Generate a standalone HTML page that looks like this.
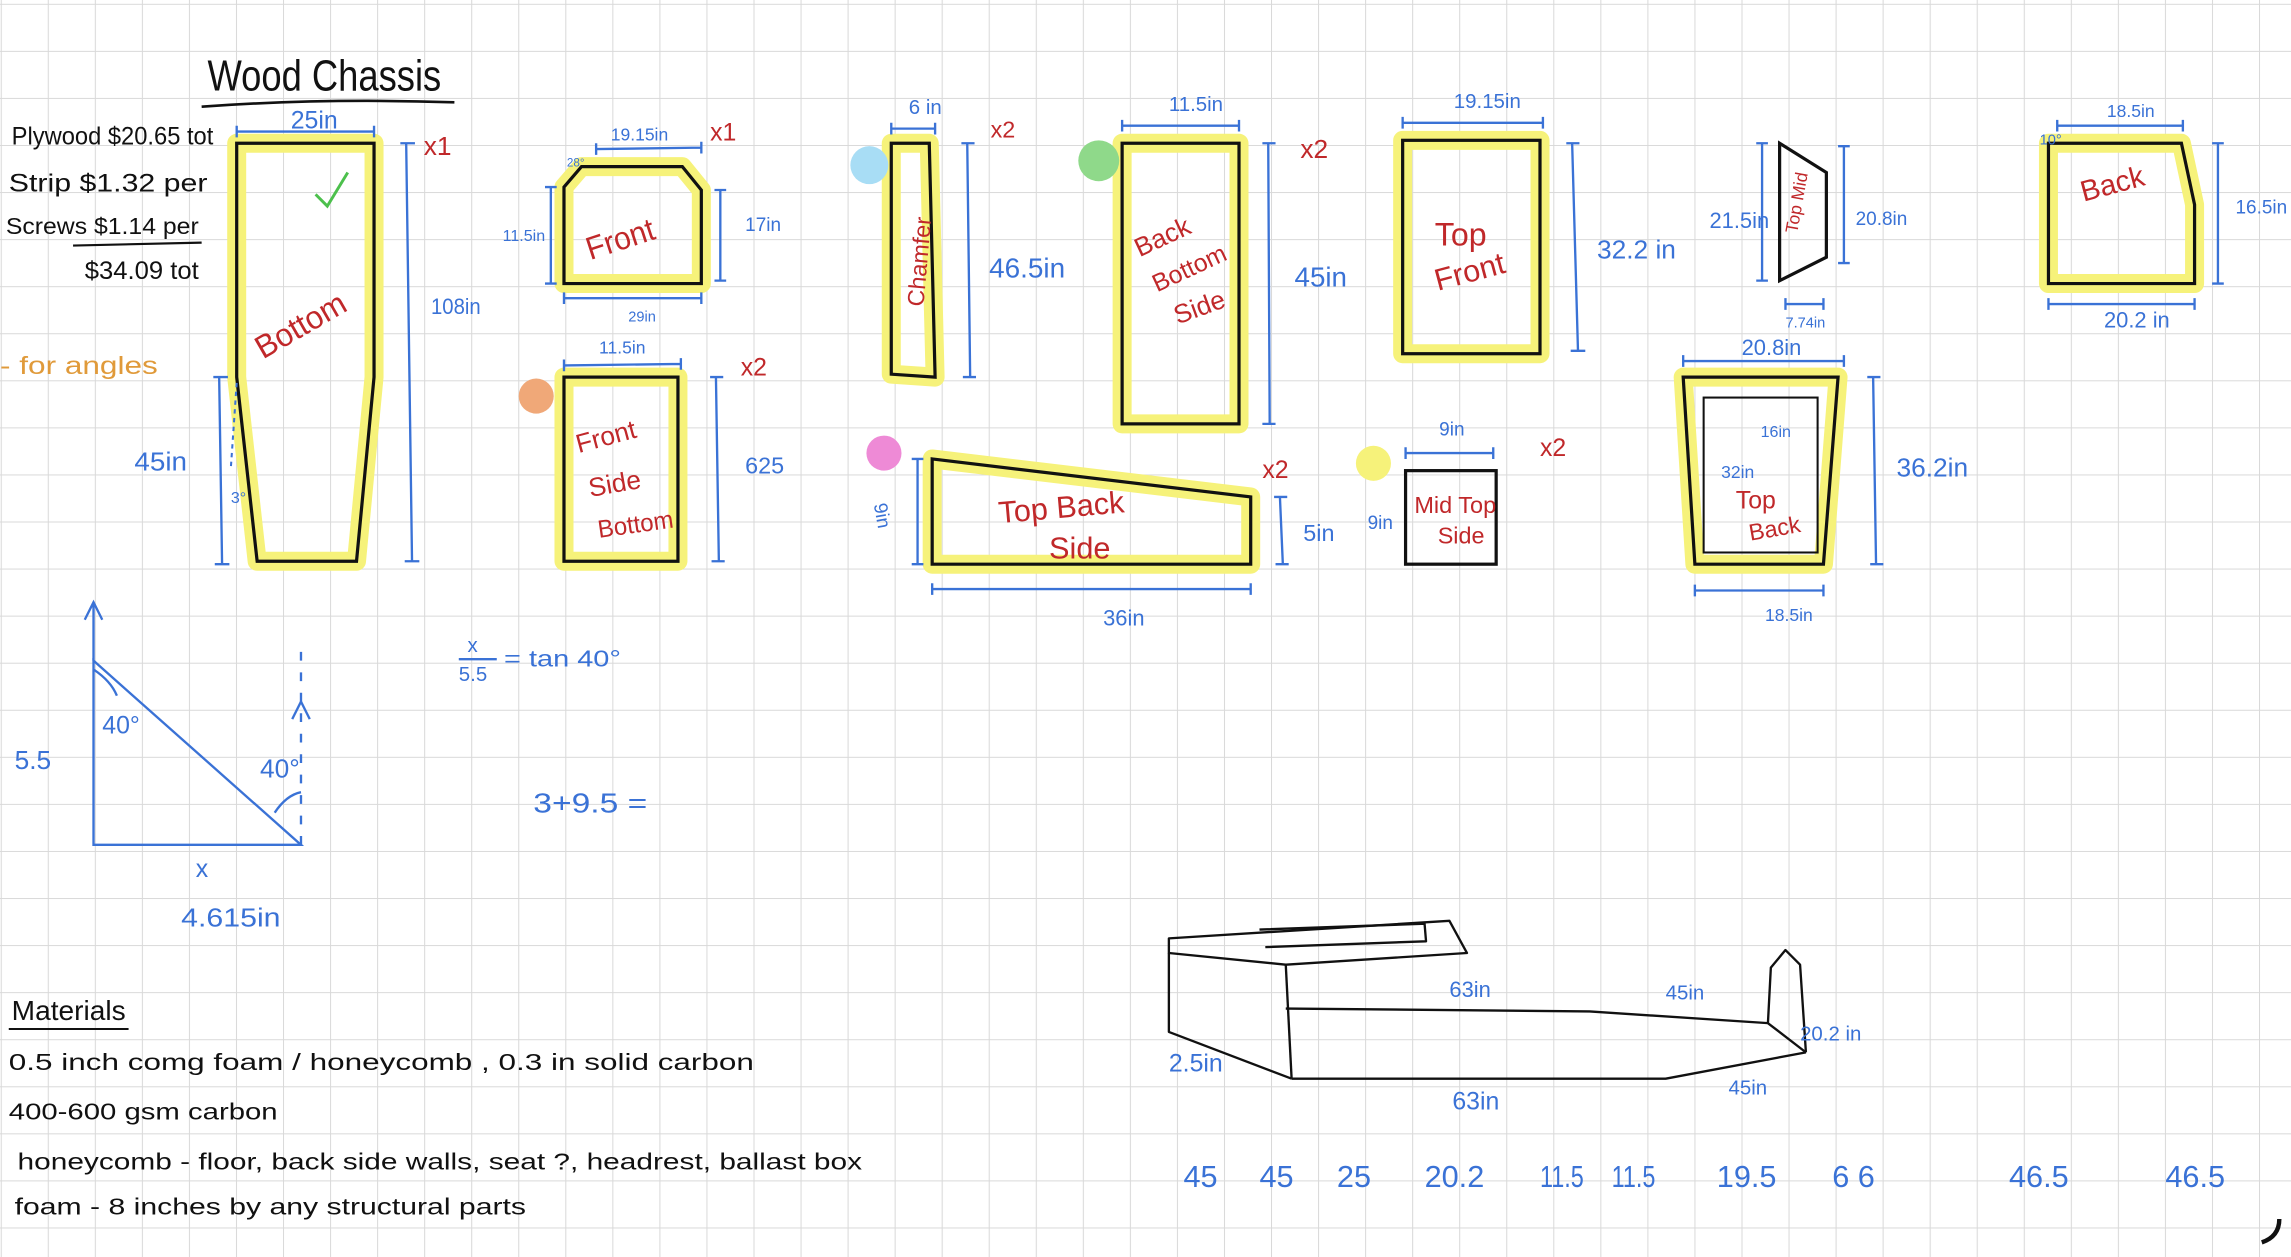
<!DOCTYPE html>
<html><head><meta charset="utf-8"><style>
html,body{margin:0;padding:0;background:#fff;}
svg{display:block;}
text{font-family:"Liberation Sans",sans-serif;}
.b{fill:#3a72d6;}
.r{fill:#c0282a;}
.k{fill:#111;}
.hl{fill:none;stroke:#f6f27a;stroke-width:13;stroke-linejoin:round;}
.sh{fill:none;stroke:#111;stroke-width:2.2;}
.dl{stroke:#3a72d6;stroke-width:1.6;fill:none;}
</style></head><body>
<svg width="2291" height="1257" viewBox="0 0 1568 860" preserveAspectRatio="none" xmlns="http://www.w3.org/2000/svg">
<defs>
<pattern id="g" x="0.5" y="2.6" width="32.2" height="32.2" patternUnits="userSpaceOnUse">
<path d="M0 0 H32.2 M0 0 V32.2" stroke="#d9d9d9" stroke-width="1.4" fill="none"/>
</pattern>
</defs>
<rect width="1568" height="860" fill="#fff"/>
<rect width="1568" height="860" fill="url(#g)"/>

<!-- Title & costs -->
<text x="142" y="62" font-size="30" class="k" textLength="160" lengthAdjust="spacingAndGlyphs">Wood Chassis</text>
<path d="M138 73 Q220 67 311 70" stroke="#111" stroke-width="1.8" fill="none"/>
<text x="8" y="99" font-size="17" class="k" textLength="138" lengthAdjust="spacingAndGlyphs">Plywood  $20.65 tot</text>
<text x="6" y="131" font-size="17" class="k" textLength="136" lengthAdjust="spacingAndGlyphs">Strip    $1.32 per</text>
<text x="4" y="160" font-size="16" class="k" textLength="132" lengthAdjust="spacingAndGlyphs">Screws  $1.14 per</text>
<path d="M50 168 L138 166" stroke="#111" stroke-width="1.5"/>
<text x="58" y="191" font-size="17" class="k" textLength="78" lengthAdjust="spacingAndGlyphs">$34.09 tot</text>
<text x="0" y="256" font-size="17" fill="#e09a3a" textLength="108" lengthAdjust="spacingAndGlyphs">- for  angles</text>

<!-- Bottom -->
<polygon class="hl" points="162,98 256,98 256,258 244,384 176,384 162,258"/>
<polygon class="sh" points="162,98 256,98 256,258 244,384 176,384 162,258"/>
<path d="M216 133 L224 141 L238 118" stroke="#4cc04c" stroke-width="2" fill="none"/>
<text x="180" y="246" font-size="22" class="r" transform="rotate(-30 180 246)" textLength="68" lengthAdjust="spacingAndGlyphs">Bottom</text>
<text x="290" y="106" font-size="18" class="r">x1</text>
<path class="dl" d="M162 90 L256 90 M162 86 V94 M256 86 V94"/>
<text x="199" y="88" font-size="17" class="b">25in</text>
<path class="dl" d="M278 98 L282 384 M274 98 H284 M277 384 H287"/>
<text x="295" y="215" font-size="15" class="b" textLength="34" lengthAdjust="spacingAndGlyphs">108in</text>
<path class="dl" d="M150 258 L152 386 M146 258 H156 M147 386 H157"/>
<text x="92" y="322" font-size="18" class="b" textLength="36" lengthAdjust="spacingAndGlyphs">45in</text>
<path d="M162 262 L158 320" stroke="#3a72d6" stroke-width="1.4" stroke-dasharray="3 3" fill="none"/>
<text x="158" y="344" font-size="11" class="b">3°</text>

<!-- Front -->
<polygon class="hl" points="386,128 398,114 467,114 480,130 480,194 386,194"/>
<polygon class="sh" points="386,128 398,114 467,114 480,130 480,194 386,194"/>
<text x="404" y="178" font-size="22" class="r" transform="rotate(-18 404 178)" textLength="48" lengthAdjust="spacingAndGlyphs">Front</text>
<path class="dl" d="M408 102 L480 101 M408 98 V106 M480 97 V105"/>
<text x="418" y="96" font-size="12" class="b">19.15in</text>
<text x="486" y="96" font-size="17" class="r">x1</text>
<path class="dl" d="M377 128 V194 M373 128 H381 M373 194 H381"/>
<text x="344" y="165" font-size="11" class="b">11.5in</text>
<path class="dl" d="M493 130 V192 M489 130 H497 M489 192 H497"/>
<text x="510" y="158" font-size="13" class="b">17in</text>
<path class="dl" d="M386 204 H480 M386 200 V208 M480 200 V208"/>
<text x="430" y="220" font-size="10" class="b">29in</text>
<text x="388" y="114" font-size="8" class="b">28°</text>

<!-- Front Side Bottom -->
<rect x="386" y="258" width="78" height="126" class="hl"/>
<rect x="386" y="258" width="78" height="126" class="sh"/>
<circle cx="367" cy="271" r="12" fill="#f0a878"/>
<path class="dl" d="M386 250 L466 249 M386 246 V254 M466 245 V253"/>
<text x="410" y="242" font-size="12" class="b">11.5in</text>
<text x="507" y="257" font-size="17" class="r">x2</text>
<path class="dl" d="M490 258 L492 384 M486 258 H495 M487 384 H496"/>
<text x="510" y="324" font-size="16" class="b">625</text>
<text x="396" y="310" font-size="18" class="r" transform="rotate(-15 396 310)">Front</text>
<text x="404" y="340" font-size="18" class="r" transform="rotate(-10 404 340)">Side</text>
<text x="410" y="368" font-size="17" class="r" transform="rotate(-8 410 368)" textLength="52" lengthAdjust="spacingAndGlyphs">Bottom</text>

<!-- Chamfer -->
<polygon class="hl" points="610,98 636,98 640,258 610,256"/>
<polygon class="sh" points="610,98 636,98 640,258 610,256"/>
<circle cx="595" cy="113" r="13" fill="#a8ddf5"/>
<path class="dl" d="M610 88 H640 M610 84 V92 M640 84 V92"/>
<text x="622" y="78" font-size="14" class="b">6 in</text>
<text x="678" y="94" font-size="16" class="r">x2</text>
<path class="dl" d="M662 98 L664 258 M658 98 H667 M659 258 H668"/>
<text x="677" y="190" font-size="19" class="b" textLength="52" lengthAdjust="spacingAndGlyphs">46.5in</text>
<text x="632" y="210" font-size="16" class="r" transform="rotate(-85 632 210)">Chamfer</text>

<!-- Back Bottom Side -->
<rect x="768" y="98" width="80" height="192" class="hl"/>
<rect x="768" y="98" width="80" height="192" class="sh"/>
<circle cx="752" cy="110" r="14" fill="#8fd98a"/>
<path class="dl" d="M768 86 H848 M768 82 V90 M848 82 V90"/>
<text x="800" y="76" font-size="14" class="b">11.5in</text>
<text x="890" y="108" font-size="18" class="r">x2</text>
<path class="dl" d="M868 98 L869 290 M864 98 H873 M864 290 H873"/>
<text x="886" y="196" font-size="19" class="b">45in</text>
<text x="780" y="176" font-size="18" class="r" transform="rotate(-25 780 176)">Back</text>
<text x="792" y="200" font-size="17" class="r" transform="rotate(-25 792 200)">Bottom</text>
<text x="806" y="222" font-size="18" class="r" transform="rotate(-20 806 222)">Side</text>

<!-- Top Back Side -->
<polygon class="hl" points="638,314 856,340 856,386 638,386"/>
<polygon class="sh" points="638,314 856,340 856,386 638,386"/>
<circle cx="605" cy="310" r="12" fill="#ee8ad6"/>
<path class="dl" d="M628 314 V386 M624 314 H632 M624 386 H632"/>
<text x="598" y="345" font-size="13" class="b" transform="rotate(80 598 345)">9in</text>
<text x="864" y="327" font-size="17" class="r">x2</text>
<path class="dl" d="M876 340 L878 386 M872 340 H881 M873 386 H882"/>
<text x="892" y="370" font-size="16" class="b">5in</text>
<path class="dl" d="M638 403 H856 M638 399 V407 M856 399 V407"/>
<text x="755" y="428" font-size="15" class="b">36in</text>
<text x="684" y="358" font-size="21" class="r" transform="rotate(-5 684 358)">Top  Back</text>
<text x="718" y="382" font-size="21" class="r">Side</text>

<!-- Mid Top Side -->
<rect x="962" y="322" width="62" height="64" class="sh"/>
<circle cx="940" cy="317" r="12" fill="#f6f27a"/>
<path class="dl" d="M962 310 H1022 M962 306 V314 M1022 306 V314"/>
<text x="985" y="298" font-size="13" class="b">9in</text>
<text x="1054" y="312" font-size="17" class="r">x2</text>
<text x="936" y="362" font-size="13" class="b">9in</text>
<text x="968" y="351" font-size="16" class="r" textLength="56" lengthAdjust="spacingAndGlyphs">Mid Top</text>
<text x="984" y="372" font-size="16" class="r">Side</text>

<!-- Top Front -->
<rect x="960" y="96" width="94" height="146" class="hl"/>
<rect x="960" y="96" width="94" height="146" class="sh"/>
<path class="dl" d="M960 84 H1056 M960 80 V88 M1056 80 V88"/>
<text x="995" y="74" font-size="14" class="b">19.15in</text>
<path class="dl" d="M1076 98 L1080 240 M1072 98 H1081 M1075 240 H1085"/>
<text x="1093" y="177" font-size="18" class="b">32.2 in</text>
<text x="982" y="168" font-size="22" class="r">Top</text>
<text x="984" y="199" font-size="21" class="r" transform="rotate(-15 984 199)">Front</text>

<!-- Top Mid -->
<polygon class="sh" points="1218,98 1250,118 1250,176 1218,192"/>
<path class="dl" d="M1206 98 V192 M1202 98 H1210 M1202 192 H1210"/>
<text x="1170" y="156" font-size="15" class="b">21.5in</text>
<path class="dl" d="M1262 100 V180 M1258 100 H1266 M1258 180 H1266"/>
<text x="1270" y="154" font-size="13" class="b">20.8in</text>
<path class="dl" d="M1222 208 H1248 M1222 204 V212 M1248 204 V212"/>
<text x="1222" y="224" font-size="10" class="b">7.74in</text>
<text x="1230" y="160" font-size="12" class="r" transform="rotate(-80 1230 160)">Top Mid</text>

<!-- Back -->
<polygon class="hl" points="1402,98 1493,98 1502,140 1502,194 1402,194"/>
<polygon class="sh" points="1402,98 1493,98 1502,140 1502,194 1402,194"/>
<path class="dl" d="M1408 86 L1494 86 M1408 82 V90 M1494 82 V90"/>
<text x="1442" y="80" font-size="12" class="b">18.5in</text>
<text x="1396" y="99" font-size="10" class="b">10°</text>
<path class="dl" d="M1518 98 V194 M1514 98 H1522 M1514 194 H1522"/>
<text x="1530" y="146" font-size="13" class="b">16.5in</text>
<path class="dl" d="M1402 208 H1502 M1402 204 V212 M1502 204 V212"/>
<text x="1440" y="224" font-size="15" class="b">20.2 in</text>
<text x="1426" y="138" font-size="20" class="r" transform="rotate(-15 1426 138)">Back</text>

<!-- Top Back -->
<polygon class="hl" points="1152,258 1258,258 1248,386 1160,386"/>
<polygon class="sh" points="1152,258 1258,258 1248,386 1160,386"/>
<rect x="1166" y="272" width="78" height="106" fill="none" stroke="#111" stroke-width="1.4"/>
<path class="dl" d="M1152 247 H1262 M1152 243 V251 M1262 243 V251"/>
<text x="1192" y="243" font-size="15" class="b">20.8in</text>
<text x="1205" y="299" font-size="11" class="b">16in</text>
<text x="1178" y="327" font-size="12" class="b">32in</text>
<text x="1188" y="348" font-size="17" class="r">Top</text>
<text x="1198" y="370" font-size="16" class="r" transform="rotate(-10 1198 370)">Back</text>
<path class="dl" d="M1282 258 L1284 386 M1278 258 H1287 M1280 386 H1289"/>
<text x="1298" y="326" font-size="18" class="b">36.2in</text>
<path class="dl" d="M1160 404 H1248 M1160 400 V408 M1248 400 V408"/>
<text x="1208" y="425" font-size="12" class="b">18.5in</text>

<!-- Triangle -->
<path d="M64 452 V578 H206 Z" stroke="#3a72d6" stroke-width="1.6" fill="none"/>
<path class="dl" d="M64 452 V412 M58 424 L64 412 L70 424"/>
<path class="dl" d="M206 578 V440" stroke-dasharray="6 8"/>
<path class="dl" d="M200 492 L206 480 L212 492"/>
<path class="dl" d="M64 458 Q76 466 80 476"/>
<path class="dl" d="M188 556 Q196 544 206 542"/>
<text x="70" y="502" font-size="17" class="b">40°</text>
<text x="178" y="532" font-size="18" class="b">40°</text>
<text x="10" y="526" font-size="18" class="b">5.5</text>
<text x="134" y="600" font-size="17" class="b">x</text>
<text x="124" y="634" font-size="18" class="b" textLength="68" lengthAdjust="spacingAndGlyphs">4.615in</text>

<text x="320" y="446" font-size="14" class="b">x</text>
<path class="dl" d="M314 451 H340"/>
<text x="314" y="466" font-size="14" class="b">5.5</text>
<text x="345" y="456" font-size="16" class="b" textLength="80" lengthAdjust="spacingAndGlyphs">= tan 40°</text>
<text x="365" y="556" font-size="19" class="b" textLength="78" lengthAdjust="spacingAndGlyphs">3+9.5 =</text>

<!-- 3D sketch -->
<g stroke="#111" stroke-width="1.6" fill="none" stroke-linejoin="round">
<path d="M800 642 L992 630 L1004 652 L880 660 L800 652 Z"/>
<path d="M862 636 L975 632 L976 644 L866 648"/>
<path d="M800 652 L800 706 L884 738"/>
<path d="M880 660 L884 738"/>
<path d="M880 690 L1088 692 L1210 700 L1236 720"/>
<path d="M884 738 L1140 738 L1236 720"/>
<path d="M1210 700 L1212 662 L1222 650 L1232 660 L1236 720"/>
</g>
<text x="992" y="682" font-size="15" class="b">63in</text>
<text x="1140" y="684" font-size="14" class="b">45in</text>
<text x="1232" y="712" font-size="14" class="b">20.2 in</text>
<text x="800" y="733" font-size="17" class="b">2.5in</text>
<text x="994" y="759" font-size="17" class="b">63in</text>
<text x="1183" y="749" font-size="14" class="b">45in</text>

<!-- Materials -->
<text x="8" y="698" font-size="19" class="k" textLength="78" lengthAdjust="spacingAndGlyphs">Materials</text>
<path d="M6 704 H88" stroke="#111" stroke-width="1.4"/>
<text x="6" y="732" font-size="16" class="k" textLength="510" lengthAdjust="spacingAndGlyphs">0.5 inch  comg  foam / honeycomb  ,  0.3 in  solid  carbon</text>
<text x="6" y="766" font-size="16" class="k" textLength="184" lengthAdjust="spacingAndGlyphs">400-600  gsm   carbon</text>
<text x="12" y="800" font-size="16" class="k" textLength="578" lengthAdjust="spacingAndGlyphs">honeycomb - floor, back side walls, seat ?, headrest, ballast box</text>
<text x="10" y="831" font-size="16" class="k" textLength="350" lengthAdjust="spacingAndGlyphs">foam - 8 inches  by  any  structural  parts</text>

<!-- Bottom numbers -->
<g font-size="21">
<text x="810" y="812" class="b">45</text>
<text x="862" y="812" class="b">45</text>
<text x="915" y="812" class="b">25</text>
<text x="975" y="812" class="b">20.2</text>
<text x="1054" y="812" class="b" textLength="30" lengthAdjust="spacingAndGlyphs">11.5</text>
<text x="1103" y="812" class="b" textLength="30" lengthAdjust="spacingAndGlyphs">11.5</text>
<text x="1175" y="812" class="b">19.5</text>
<text x="1254" y="812" class="b">6 6</text>
<text x="1375" y="812" class="b">46.5</text>
<text x="1482" y="812" class="b">46.5</text>
</g>
<path d="M1548 850 Q1560 846 1560 834" stroke="#111" stroke-width="3" fill="none"/>
</svg>
</body></html>
